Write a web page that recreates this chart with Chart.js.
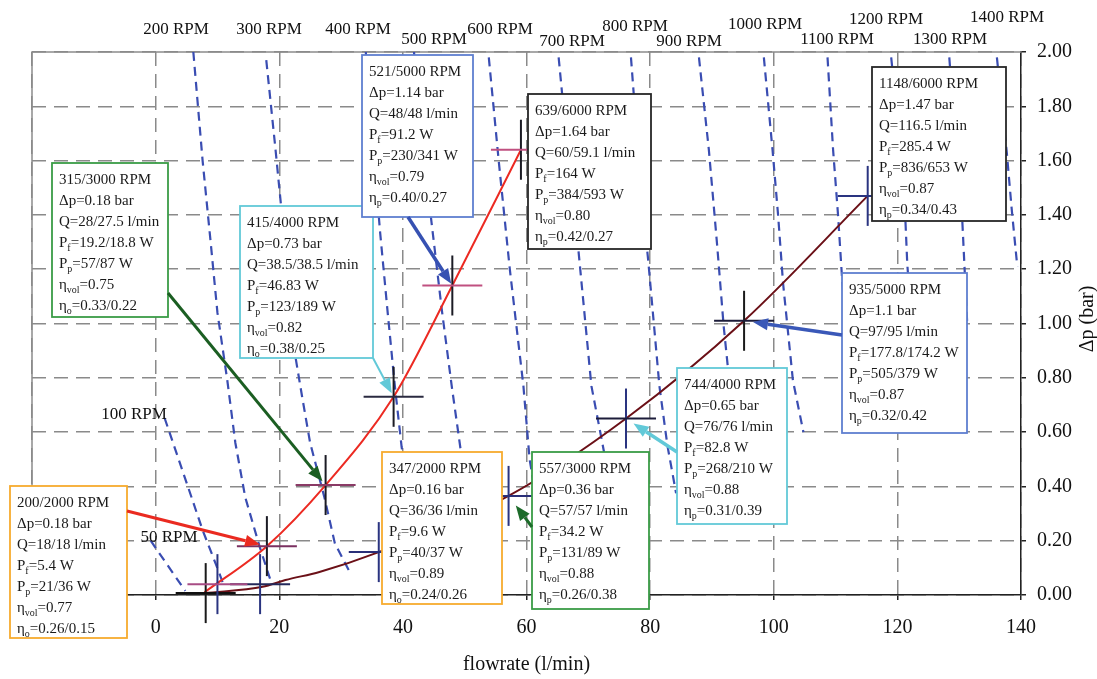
<!DOCTYPE html>
<html>
<head>
<meta charset="utf-8">
<script src="https://cdn.jsdelivr.net/npm/chart.js@4.4.1/dist/chart.umd.min.js"></script>
<style>
  html, body { margin: 0; padding: 0; background: #fff; }
  #wrap { width: 1097px; height: 679px; position: relative; }
</style>
</head>
<body>
<div id="wrap"><canvas id="chart"></canvas></div>
<script>
const SERIF = "'Liberation Serif', 'Times New Roman', serif";

// measured operating points (flowrate l/min, pressure rise bar)
const seriesAQ = [10.0, 18, 27.5, 38.5, 48, 59.1];
const seriesADp = [0.04, 0.18, 0.405, 0.73, 1.14, 1.64];
const seriesBQ = [8.1, 16.9, 36.1, 57.1, 76.1, 95.2, 115.2];
const seriesBDp = [0.007, 0.04, 0.158, 0.365, 0.65, 1.01, 1.47];

// trend curves through the operating points
const trendAQ = [7.9, 18, 27.5, 38.5, 48, 59.1];
const trendADp = [0.01, 0.18, 0.405, 0.73, 1.14, 1.64];
const trendBQ = [8, 17.3, 21, 26.5, 36.1, 57.1, 76.1, 95.2, 115.2];
const trendBDp = [0.007, 0.03, 0.055, 0.085, 0.158, 0.365, 0.65, 1.01, 1.47];

// constant speed lines, [Q, dp]
const rpm50 = [[-0.8, 0.2], [4.8, 0.015]];
const rpm100 = [[1.45, 0.652], [5.3, 0.394], [7.6, 0.239], [10.3, 0.081], [11.0, 0.037]];
const rpm200 = [[6.1, 2.0], [7.6, 1.6], [8.9, 1.3], [10.0, 1.04], [11.6, 0.79], [12.9, 0.56], [14.5, 0.36], [16.8, 0.18], [18.5, 0.06]];
const rpm300 = [[17.9, 1.97], [19.4, 1.64], [21.0, 1.27], [22.6, 0.88], [23.7, 0.73], [25.0, 0.56], [27.3, 0.36], [29.0, 0.19], [31.5, 0.08]];
const rpm400 = [[34.0, 2.0], [35.2, 1.65], [36.3, 1.34], [37.5, 1.05], [38.7, 0.77], [39.8, 0.545], [41.5, 0.3], [43.5, 0.08]];
const rpm500 = [[41.8, 2.0], [43.2, 1.65], [44.7, 1.36], [46.3, 1.05], [47.9, 0.77], [49.5, 0.51], [51, 0.3]];
const rpm600 = [[53.9, 1.98], [55.5, 1.6], [57.3, 1.2], [59.5, 0.77], [60.5, 0.5], [62, 0.3]];
const rpm700 = [[65.2, 1.98], [66.8, 1.6], [68.4, 1.27], [70.5, 0.77], [72.1, 0.58], [74, 0.35]];
const rpm800 = [[76.9, 1.98], [77.5, 1.8], [78.5, 1.5], [79.7, 1.23], [81.5, 0.77], [82.8, 0.55], [84.2, 0.375]];
const rpm900 = [[87.9, 1.98], [89.5, 1.64], [90.8, 1.3], [91.9, 0.99], [93.2, 0.7], [94.5, 0.45]];
const rpm1000 = [[98.4, 1.98], [99.8, 1.64], [100.7, 1.4], [101.5, 1.15], [103.1, 0.79], [104.8, 0.6]];
const rpm1100 = [[108.7, 1.98], [109.6, 1.64], [110.4, 1.4], [111.1, 1.15], [112, 0.9]];
const rpm1200 = [[119.0, 1.98], [119.8, 1.8], [121.3, 1.38], [121.6, 1.22], [122.3, 1.0], [123, 0.8]];
const rpm1300 = [[128.4, 1.98], [129.3, 1.7], [130.5, 1.38], [131.3, 1.0]];
const rpm1400 = [[136.1, 1.98], [137.7, 1.63], [138.5, 1.42], [139.4, 1.21]];
const rpmLines = [rpm50, rpm100, rpm200, rpm300, rpm400, rpm500, rpm600, rpm700,
  rpm800, rpm900, rpm1000, rpm1100, rpm1200, rpm1300, rpm1400];
const rpmLabels = ['50 RPM', '100 RPM', '200 RPM', '300 RPM', '400 RPM', '500 RPM', '600 RPM', '700 RPM',
  '800 RPM', '900 RPM', '1000 RPM', '1100 RPM', '1200 RPM', '1300 RPM', '1400 RPM'];
// label centres in px
const rpmLabelPos = [[169, 538], [134, 415], [176, 30], [269, 30], [358, 30], [434, 40], [500, 30], [572, 42],
  [635, 27], [689, 42], [765, 25], [837, 40], [886, 20], [950, 40], [1007, 18]];

const xTicks = { min: -20, max: 140, step: 20 };
const yTicks = { min: 0, max: 2, step: 0.2 };

// note boxes
const noteText = [
  ['200/2000 RPM', 'Δp=0.18 bar', 'Q=18/18 l/min', 'P_f=5.4 W', 'P_p=21/36 W', 'η_vol=0.77', 'η_o=0.26/0.15'],
  ['315/3000 RPM', 'Δp=0.18 bar', 'Q=28/27.5 l/min', 'P_f=19.2/18.8 W', 'P_p=57/87 W', 'η_vol=0.75', 'η_o=0.33/0.22'],
  ['415/4000 RPM', 'Δp=0.73 bar', 'Q=38.5/38.5 l/min', 'P_f=46.83 W', 'P_p=123/189 W', 'η_vol=0.82', 'η_o=0.38/0.25'],
  ['521/5000 RPM', 'Δp=1.14 bar', 'Q=48/48 l/min', 'P_f=91.2 W', 'P_p=230/341 W', 'η_vol=0.79', 'η_p=0.40/0.27'],
  ['639/6000 RPM', 'Δp=1.64 bar', 'Q=60/59.1 l/min', 'P_f=164 W', 'P_p=384/593 W', 'η_vol=0.80', 'η_p=0.42/0.27'],
  ['1148/6000 RPM', 'Δp=1.47 bar', 'Q=116.5 l/min', 'P_f=285.4 W', 'P_p=836/653 W', 'η_vol=0.87', 'η_p=0.34/0.43'],
  ['935/5000 RPM', 'Δp=1.1 bar', 'Q=97/95 l/min', 'P_f=177.8/174.2 W', 'P_p=505/379 W', 'η_vol=0.87', 'η_p=0.32/0.42'],
  ['744/4000 RPM', 'Δp=0.65 bar', 'Q=76/76 l/min', 'P_f=82.8 W', 'P_p=268/210 W', 'η_vol=0.88', 'η_p=0.31/0.39'],
  ['347/2000 RPM', 'Δp=0.16 bar', 'Q=36/36 l/min', 'P_f=9.6 W', 'P_p=40/37 W', 'η_vol=0.89', 'η_o=0.24/0.26'],
  ['557/3000 RPM', 'Δp=0.36 bar', 'Q=57/57 l/min', 'P_f=34.2 W', 'P_p=131/89 W', 'η_vol=0.88', 'η_p=0.26/0.38'],
];

const ORANGE = '#f7ab2e', GREEN = '#3a9c46', CYAN = '#62c9d8', BLUE = '#5f7fd0', BLACK = '#262626';
// box [left, top, right, bottom] in px, arrow start in px, arrow target = [series, index]
const noteLayout = [
  { box: [10, 486, 127, 638], color: ORANGE, from: [127, 511], to: ['A', 1], arrow: '#ea2a20', w: 3, gap: 7 },
  { box: [52, 163, 168, 317], color: GREEN, from: [168, 293], to: ['A', 2], arrow: '#1b5e22', w: 3, gap: 5 },
  { box: [240, 206, 373, 358], color: CYAN, from: [373, 358], to: ['A', 3], arrow: CYAN, w: 2, gap: 4 },
  { box: [362, 55, 473, 217], color: BLUE, from: [408, 217], to: ['A', 4], arrow: '#3651b2', w: 3.5, gap: 2 },
  { box: [528, 94, 651, 249], color: BLACK },
  { box: [872, 67, 1006, 221], color: BLACK },
  { box: [842, 273, 967, 433], color: BLUE, from: [842, 335], to: ['B', 5], arrow: '#3a58b8', w: 3.5, gap: 9 },
  { box: [677, 368, 787, 524], color: CYAN, from: [677, 452], to: ['B', 4], arrow: CYAN, w: 3.5, gap: 9 },
  { box: [382, 452, 502, 604], color: ORANGE },
  { box: [532, 452, 649, 609], color: GREEN, from: [532, 527], to: ['B', 3], arrow: '#1d6b2a', w: 3, gap: 12 },
];

const toPoints = (qs, dps) => qs.map((q, i) => ({ x: q, y: dps[i] }));

// each measured point is marked by a horizontal and a vertical bar
function crossBars(qs, dps, rotation, colors) {
  return {
    data: toPoints(qs, dps),
    showLine: false,
    pointStyle: 'line',
    pointRadius: 30,
    pointRotation: rotation,
    pointBorderWidth: 2,
    pointBorderColor: colors,
    borderColor: colors,
    clip: false,
    order: 0
  };
}

const datasets = [
  crossBars(seriesAQ, seriesADp, 0, ['#a84c84', '#7a3060', '#8a3a66', '#2a2a40', '#c05080', '#c05080']),
  crossBars(seriesAQ, seriesADp, 90, ['#2a3480', '#1b1b24', '#1b1b24', '#1b1b24', '#1b1b24', '#1b1b24']),
  crossBars(seriesBQ, seriesBDp, 0, ['#111111', '#23285a', '#2a2f78', '#2a2f78', '#1c1c3a', '#1c1c3a', '#2a3480']),
  crossBars(seriesBQ, seriesBDp, 90, ['#1a1a1a', '#2a3480', '#2a3480', '#2a3480', '#2a3480', '#1a1a1a', '#2a3480']),
  {
    data: toPoints(trendAQ, trendADp), showLine: true, borderColor: '#ec2a22', borderWidth: 2,
    pointRadius: 0, cubicInterpolationMode: 'monotone', order: 1
  },
  {
    data: toPoints(trendBQ, trendBDp), showLine: true, borderColor: '#6b1017', borderWidth: 2,
    pointRadius: 0, cubicInterpolationMode: 'monotone', order: 1
  },
  ...rpmLines.map(line => ({
    data: line.map(p => ({ x: p[0], y: p[1] })),
    showLine: true, borderColor: '#3a4db2', borderWidth: 2.2, borderDash: [9, 6],
    pointRadius: 0, tension: 0, order: 2
  }))
];

// "P_f=5.4 W": the part after "_" up to "=" is set as a subscript
function drawRich(ctx, str, x, y) {
  const m = str.match(/^([^_]*)_([^=]*)(.*)$/);
  ctx.font = `15px ${SERIF}`;
  if (!m) { ctx.fillText(str, x, y); return; }
  ctx.fillText(m[1], x, y);
  x += ctx.measureText(m[1]).width;
  ctx.font = `10px ${SERIF}`;
  ctx.fillText(m[2], x, y + 4);
  x += ctx.measureText(m[2]).width;
  ctx.font = `15px ${SERIF}`;
  ctx.fillText(m[3], x, y);
}

function drawArrow(ctx, x0, y0, x1, y1, color, w, gap) {
  const ang = Math.atan2(y1 - y0, x1 - x0);
  const tx = x1 - Math.cos(ang) * gap, ty = y1 - Math.sin(ang) * gap;
  const head = 15, half = 6;
  const bx = tx - Math.cos(ang) * head, by = ty - Math.sin(ang) * head;
  ctx.save();
  ctx.strokeStyle = color;
  ctx.fillStyle = color;
  ctx.lineWidth = w;
  ctx.beginPath();
  ctx.moveTo(x0, y0);
  ctx.lineTo(bx, by);
  ctx.stroke();
  ctx.beginPath();
  ctx.moveTo(tx, ty);
  ctx.lineTo(bx + Math.sin(ang) * half, by - Math.cos(ang) * half);
  ctx.lineTo(bx - Math.sin(ang) * half, by + Math.cos(ang) * half);
  ctx.closePath();
  ctx.fill();
  ctx.restore();
}

const decorations = {
  id: 'decorations',
  beforeDatasetsDraw(chart) {
    const { ctx, chartArea: a } = chart;
    ctx.save();
    ctx.strokeStyle = '#8c8c8c';
    ctx.lineWidth = 1.5;
    ctx.beginPath();
    ctx.moveTo(a.left, a.bottom);
    ctx.lineTo(a.left, a.top);
    ctx.lineTo(a.right, a.top);
    ctx.stroke();
    ctx.restore();
  },
  afterDraw(chart) {
    const { ctx, scales: { x, y } } = chart;
    ctx.save();
    ctx.fillStyle = '#111';
    ctx.textAlign = 'center';
    ctx.textBaseline = 'middle';
    ctx.font = `17px ${SERIF}`;
    rpmLabels.forEach((t, i) => ctx.fillText(t, rpmLabelPos[i][0], rpmLabelPos[i][1]));

    // right axis title, reading bottom to top
    ctx.save();
    ctx.translate(1088, 319);
    ctx.rotate(-Math.PI / 2);
    ctx.font = `20px ${SERIF}`;
    ctx.fillText('Δp (bar)', 0, 0);
    ctx.restore();

    ctx.textAlign = 'left';
    ctx.textBaseline = 'alphabetic';
    noteLayout.forEach((n, i) => {
      const [l, t, r, b] = n.box;
      ctx.fillStyle = '#fff';
      ctx.fillRect(l, t, r - l, b - t);
      ctx.strokeStyle = n.color;
      ctx.lineWidth = 1.8;
      ctx.strokeRect(l, t, r - l, b - t);
      ctx.fillStyle = '#1a1a1a';
      noteText[i].forEach((line, k) => drawRich(ctx, line, l + 7, t + 21 + k * 21));
    });

    noteLayout.forEach(n => {
      if (!n.from) return;
      const qs = n.to[0] === 'A' ? seriesAQ : seriesBQ;
      const dps = n.to[0] === 'A' ? seriesADp : seriesBDp;
      const px = x.getPixelForValue(qs[n.to[1]]);
      const py = y.getPixelForValue(dps[n.to[1]]);
      drawArrow(ctx, n.from[0], n.from[1], px, py, n.arrow, n.w, n.gap);
    });
    ctx.restore();
  }
};

const axisFont = { family: SERIF, size: 20 };

new Chart(document.getElementById('chart'), {
  type: 'scatter',
  data: { datasets },
  options: {
    responsive: true,
    maintainAspectRatio: false,
    animation: false,
    events: [],
    layout: { padding: { left: 30, top: 52, right: 0, bottom: 0 } },
    plugins: { legend: { display: false }, tooltip: { enabled: false } },
    scales: {
      x: {
        type: 'linear', position: 'bottom', min: xTicks.min, max: xTicks.max,
        afterFit: s => { s.height = 84; },
        ticks: {
          stepSize: xTicks.step, padding: 16, color: '#111', font: axisFont, maxRotation: 0,
          callback: v => (v < 0 ? '' : v)
        },
        grid: { color: '#8a8a8a', lineWidth: 1.5, tickLength: 5, tickColor: '#222', tickWidth: 1.5 },
        border: { color: '#222', width: 1.5, dash: [14, 8] },
        title: {
          display: true, text: 'flowrate (l/min)', color: '#111', font: axisFont,
          padding: { top: 0, bottom: 2 }
        }
      },
      y: {
        type: 'linear', position: 'right', min: yTicks.min, max: yTicks.max,
        afterFit: s => { s.width = 76; },
        ticks: {
          stepSize: yTicks.step, padding: 11, color: '#111', font: axisFont,
          callback: v => v.toFixed(2)
        },
        grid: { color: '#8a8a8a', lineWidth: 1.5, tickLength: 5, tickColor: '#222', tickWidth: 1.5 },
        border: { color: '#222', width: 1.5, dash: [14, 8] }
      }
    }
  },
  plugins: [decorations]
});
</script>
</body>
</html>
